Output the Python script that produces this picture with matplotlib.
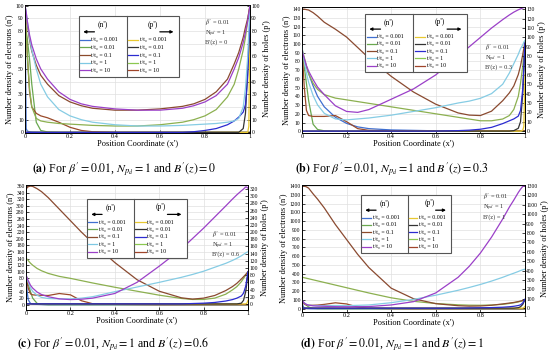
import numpy as np
import matplotlib
matplotlib.use('Agg')
import matplotlib.pyplot as plt
from matplotlib.patches import Rectangle, FancyArrowPatch

plt.rcParams['font.family'] = ['Liberation Serif', 'DejaVu Serif']
plt.rcParams['mathtext.fontset'] = 'stix'

# position coordinate x' (shared by all curves)
x = [0, 0.005, 0.01, 0.02, 0.03, 0.05, 0.07, 0.1, 0.15, 0.2, 0.25, 0.3, 0.4, 0.5,
     0.6, 0.7, 0.75, 0.8, 0.85, 0.9, 0.93, 0.95, 0.97, 0.98, 0.99, 0.995, 1.0]
times = ['0.001', '0.01', '0.1', '1', '10']

# (a) B'(z) = 0   -- order t/t0 = 0.001, 0.01, 0.1, 1, 10
n_a = [[100, 3, 1, 0.5, 0.3, 0.2, 0.1] + [0] * 20,
       [85, 80, 74, 58, 38, 8, 1.5, 0.3] + [0] * 19,
       [92, 80, 62, 32, 20, 15, 13, 11.5, 8, 4, 1.5, 0.5] + [0] * 15,
       [100, 80, 60, 35, 20, 11, 9, 8, 7, 6.5, 6, 5.5, 5, 5, 6, 8, 10, 13, 18, 28, 38, 50, 65, 75, 88, 95, 100],
       [100, 93, 85, 73, 64, 53, 45, 38, 29, 24, 21, 19, 17.5, 17.5, 18.5, 20.5, 22.5, 26, 32, 42, 54, 63, 75, 83, 90, 95, 100]]
p_a = [[0] * 25 + [5, 100],
       [0] * 22 + [3, 15, 50, 70, 85],
       [0] * 16 + [0.5, 1.5, 3, 6, 9, 12, 16, 22, 45, 70, 90],
       [100, 95, 88, 75, 65, 50, 38, 28, 18, 13, 10, 8, 6, 5, 5, 5.5, 6, 6.5, 7, 8, 9, 11, 20, 35, 60, 80, 100],
       [100, 95, 88, 77, 69, 58, 50, 42, 32, 26, 22.5, 20.5, 18.5, 17.5, 17.5, 19, 21, 24, 29, 38, 50, 59, 71, 79, 88, 94, 100]]

# (b) B'(z) = 0.3
n_b = [[90, 86, 82, 74, 66, 52, 40, 28, 16, 9, 5, 3, 1.5, 1] + [0.5] * 13,
       [92, 85, 75, 55, 35, 8, 2, 0.5] + [0] * 19,
       [92, 75, 52, 24, 18, 17, 17, 17, 18, 11, 3, 1] + [0.5] * 15,
       [95, 90, 85, 75, 66, 55, 48, 42, 38, 36, 34, 32, 28, 24, 20, 16, 14, 12, 12, 14, 18, 25, 40, 55, 75, 88, 100],
       [139, 140, 140, 139.5, 139, 136, 132, 125, 117, 108, 96, 84, 63, 45, 31, 21, 18.5, 18, 23, 35, 44, 52, 65, 75, 88, 95, 103]]
p_b = [[0] * 24 + [1, 5, 60],
       [0] * 21 + [0.5, 3, 10, 40, 65, 90],
       [0] * 15 + [0.5, 1, 2, 4, 8, 11, 13, 16, 22, 45, 70, 95],
       [90, 82, 75, 62, 52, 38, 28, 19, 13, 12, 13, 14, 17, 21, 25, 30, 32, 35, 40, 50, 62, 72, 82, 88, 92, 95, 97],
       [86, 82, 78, 70, 64, 55, 47, 39, 27, 21, 20, 23, 34, 45, 60, 80, 90, 100, 110, 119, 124, 127, 129.5, 130.5, 131.5, 132, 132]]

# (c) B'(z) = 0.6
n_c = [[90, 40, 15, 4, 2, 1, 0.5] + [0] * 20,
       [90, 80, 65, 40, 20, 4, 1] + [0] * 20,
       [92, 70, 50, 33, 30, 29, 28.5, 28, 34, 30, 12, 3, 1, 0.5] + [0] * 13,
       [140, 138, 134, 126, 120, 110, 103, 95, 86, 80, 73, 66, 53, 41, 29, 19, 16, 16, 20, 32, 45, 55, 70, 80, 90, 95, 100],
       [350, 355, 358, 360, 359, 352, 343, 325, 290, 255, 220, 188, 128, 76, 41, 21, 17, 20, 28, 43, 55, 65, 78, 85, 92, 96, 100]]
p_c = [[0] * 25 + [2, 10],
       [0] * 22 + [2, 10, 35, 60, 85],
       [0] * 16 + [1, 2, 4, 8, 12, 16, 22, 30, 50, 70, 90],
       [80, 70, 60, 45, 35, 24, 18, 15, 14, 14, 16, 20, 34, 47, 60, 74, 82, 91, 102, 113, 121, 127, 134, 138, 142, 144, 145],
       [80, 72, 65, 52, 44, 33, 26, 20, 14, 12, 13, 16, 29, 60, 105, 153, 182, 211, 242, 273, 292, 304, 315, 320, 326, 325, 322]]

# (d) B'(z) = 1
n_d = [[80, 30, 10, 3, 1] + [0] * 22,
       [90, 80, 65, 40, 20, 5, 1] + [0] * 20,
       [95, 75, 55, 42, 40, 40, 42, 50, 68, 55, 20, 5, 1] + [0] * 14,
       [360, 357, 354, 348, 342, 330, 318, 300, 270, 240, 210, 180, 125, 85, 60, 45, 41, 40, 43, 50, 60, 68, 78, 85, 92, 96, 100],
       [1390, 1400, 1400, 1390, 1375, 1310, 1250, 1150, 960, 790, 620, 470, 235, 115, 58, 35, 30, 32, 40, 55, 65, 72, 82, 88, 94, 97, 100]]
p_d = [[0] * 25 + [5, 20],
       [0] * 22 + [5, 15, 40, 65, 90],
       [0] * 16 + [2, 4, 6, 10, 15, 20, 28, 35, 55, 75, 95],
       [90, 70, 55, 40, 32, 28, 27, 28, 28, 27, 30, 34, 58, 93, 138, 190, 220, 252, 288, 328, 355, 372, 390, 400, 408, 412, 414],
       [90, 70, 55, 40, 32, 25, 22, 20, 16, 15, 15.5, 17, 34, 69, 162, 328, 445, 586, 755, 948, 1075, 1150, 1230, 1265, 1295, 1300, 1300]]

# colours
n_line = ['#3f6fd0', '#6aa84f', '#9a4a2a', '#8cb050', '#8a4a30']
p_line = ['#e8c830', '#333333', '#2b2bd0', '#86cce4', '#9b40c8']
n_leg = ['#3f6fd0', '#6aa84f', '#8b4a2b', '#7ec8e3', '#9b40c8']
p_leg = ['#e8c830', '#333333', '#2b2bd0', '#8cc850', '#a0452a']

fig = plt.figure(figsize=(5.5, 3.6), dpi=100)


def legend_box(ax, x0, xd, x1, yb, yt):
    tr = ax.transAxes
    h = yt - yb
    ax.add_patch(Rectangle((x0, yb), x1 - x0, h, transform=tr, facecolor='white',
                           edgecolor='#555555', lw=0.8, zorder=10))
    ax.plot([xd, xd], [yb, yt], transform=tr, color='#555555', lw=0.8, zorder=11)
    cols = [(x0, xd, "(n')", n_leg, -1), (xd, x1, "(p')", p_leg, 1)]
    for c0, c1, head, leg, d in cols:
        w = c1 - c0
        ax.text(c0 + 0.5 * w, yt - 0.14 * h, head, transform=tr, ha='center',
                va='center', fontsize=5.5, zorder=12)
        ya = yt - 0.26 * h
        if d < 0:
            a0, a1 = c0 + 0.38 * w, c0 + 0.03 * w
        else:
            a0, a1 = c0 + 0.58 * w, c0 + 0.95 * w
        ax.add_patch(FancyArrowPatch((a0, ya), (a1, ya), transform=tr,
                                     arrowstyle='-|>', mutation_scale=4,
                                     lw=0.9, color='black', zorder=12))
        for i in range(5):
            yy = yt - (0.39 + 0.125 * i) * h
            ax.plot([c0 + 0.03 * w, c0 + 0.22 * w], [yy, yy], transform=tr,
                    color=leg[i], lw=0.9, zorder=12)
            ax.text(c0 + 0.25 * w, yy, 't/t\u2080 = ' + times[i], transform=tr,
                    ha='left', va='center', fontsize=4.2, zorder=12)


def panel(rect, n_vals, p_vals, ylim_n, yt_n, ylim_p, yt_p, box, note, bz):
    ax = fig.add_axes(rect)
    ax2 = ax.twinx()
    for i in range(5):
        ax.plot(x, n_vals[i], color=n_line[i], lw=0.9)
        ax2.plot(x, p_vals[i], color=p_line[i], lw=0.9)
    ax.set_xlim(0, 1)
    ax.set_ylim(*ylim_n)
    ax2.set_ylim(*ylim_p)
    ax.set_yticks(yt_n)
    ax2.set_yticks(yt_p)
    ax.set_xticks([0, 0.2, 0.4, 0.6, 0.8, 1])
    ax.set_xticklabels(['0', '0.2', '0.4', '0.6', '0.8', '1'])
    ax.grid(color='#e0e0e0', lw=0.5)
    for a in (ax, ax2):
        a.tick_params(labelsize=4.0, length=2, pad=1, width=0.5, direction='in')
        for s in a.spines.values():
            s.set_linewidth(0.6)
    ax.tick_params(axis='x', labelsize=4.5)
    ax.set_xlabel("Position Coordinate (x')", fontsize=6, labelpad=0)
    ax.set_ylabel("Number density of electrons (n')", fontsize=6, labelpad=1)
    ax2.set_ylabel("Number density of holes (p')", fontsize=6, labelpad=2)
    legend_box(ax2, *box)
    nx, ny = note
    ax2.text(nx, ny, "$\\beta'$ = 0.01\nN$_{pd}$ = 1\nB'(z) = " + bz,
             transform=ax2.transAxes, fontsize=4.6, ha='left', va='top',
             linespacing=1.15, color='#333333')
    return ax


panel([0.0455, 0.6306, 0.409, 0.3556], n_a, p_a, (-0.5, 100.5), np.arange(0, 101, 10),
      (-0.5, 100.5), np.arange(0, 101, 10), (0.24, 0.453, 0.684, 0.4375, 0.914),
      (0.80, 0.905), '0')
panel([0.549, 0.6306, 0.4055, 0.35], n_b, p_b, (-2, 142.5), np.arange(0, 141, 10),
      (-2, 132.5), np.arange(0, 131, 10), (0.283, 0.498, 0.74, 0.484, 0.944),
      (0.82, 0.72), '0.3')
panel([0.0473, 0.1389, 0.4036, 0.347], n_c, p_c, (-16, 363), np.arange(0, 361, 20),
      (-17, 331), np.arange(0, 321, 20), (0.275, 0.486, 0.725, 0.416, 0.888),
      (0.84, 0.646), '0.6')
panel([0.549, 0.1333, 0.4055, 0.3528], n_d, p_d, (-37, 1411), np.arange(0, 1401, 100),
      (-41, 1310), np.arange(0, 1301, 100), (0.265, 0.475, 0.668, 0.465, 0.92),
      (0.81, 0.95), '1')

caps = [(0.226, 1 - 170 / 360, 'a', '0'), (0.713, 1 - 170 / 360, 'b', '0.3'),
        (0.206, 1 - 345 / 360, 'c', '0.6'), (0.713, 1 - 345 / 360, 'd', '1')]
for cx, cy, lab, bz in caps:
    fig.text(cx, cy, r"$\mathbf{(" + lab + r")}$ For $\beta' = 0.01$, $N_{p_d} = 1$ and $B'(z) = " + bz + "$",
             ha='center', va='center', fontsize=8.6)

fig.savefig('out.png', dpi=100)
